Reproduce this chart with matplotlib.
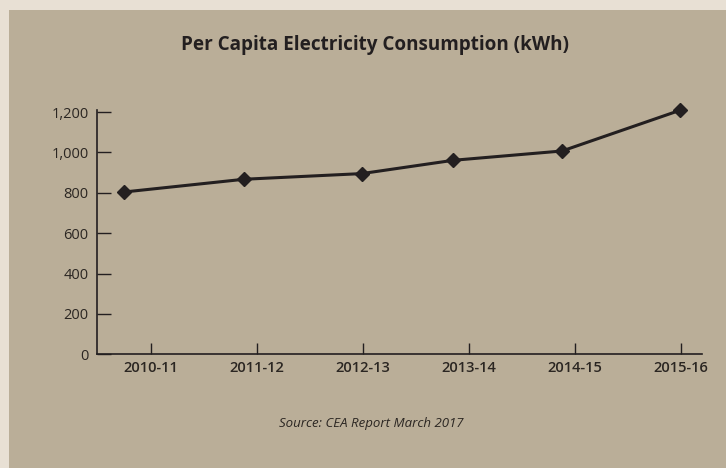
import matplotlib.pyplot as plt
import matplotlib.transforms as mtransforms
from matplotlib.patches import Rectangle

# data
years = ['2010-11', '2011-12', '2012-13', '2013-14', '2014-15', '2015-16']
# x position of each point in category units (points sit off the ticks in the original)
point_x = [-0.25, 0.88, 1.99, 2.855, 3.88, 4.995]
kwh = [804, 867, 895, 961, 1007, 1209]
y_ticks = [0, 200, 400, 600, 800, 1000, 1200]

outer_bg = '#e8e0d4'
panel_bg = '#baae98'
ink = '#231f20'

plt.rcParams['font.family'] = ['Open Sans', 'DejaVu Sans']

fig = plt.figure(figsize=(7.26, 4.68), dpi=100)
fig.patch.set_facecolor(outer_bg)
fig.patches.append(Rectangle((9 / 726, 0), 1, (468 - 10) / 468,
                             transform=fig.transFigure, facecolor=panel_bg,
                             edgecolor='none', zorder=-5))

ax = fig.add_axes([97 / 726, 1 - 354.3 / 468, (702 - 97) / 726, (354.3 - 110) / 468])
ax.set_zorder(2)
ax.set_facecolor('none')

ax.plot(point_x, kwh, color=ink, linewidth=2.2, marker='D', markersize=7.5,
        clip_on=False, zorder=3)

ax.set_xlim(-0.508, 5.2)
ax.set_ylim(0, 1210)
ax.set_xticks(range(len(years)))
ax.set_xticklabels(years, fontsize=10.5, fontweight='semibold', color='#2b2622')
ax.set_yticks(y_ticks)
ax.set_yticklabels([f'{v:,}' for v in y_ticks], fontsize=10.5, color='#2b2622')

# labels sit a little left of their ticks in the original
shift = mtransforms.ScaledTranslation(-7 / 100, 0, fig.dpi_scale_trans)
for lbl in ax.get_xticklabels():
    lbl.set_transform(lbl.get_transform() + shift)

ax.tick_params(axis='x', direction='in', length=8, width=1, color=ink, pad=5)
ax.tick_params(axis='y', direction='in', length=10, width=1, color=ink, pad=6)

for side in ['top', 'right']:
    ax.spines[side].set_visible(False)
for side in ['left', 'bottom']:
    ax.spines[side].set_color(ink)
    ax.spines[side].set_linewidth(1.2)

fig.text(375 / 726, 1 - 45 / 468, 'Per Capita Electricity Consumption (kWh)',
         ha='center', va='center', fontsize=13.6, fontweight='bold', color=ink)
fig.text(371 / 726, 1 - 423 / 468, 'Source: CEA Report March 2017',
         ha='center', va='center', fontsize=9.5, style='italic', color='#2b2622')

fig.savefig('out.png', dpi=100, facecolor=fig.get_facecolor())
